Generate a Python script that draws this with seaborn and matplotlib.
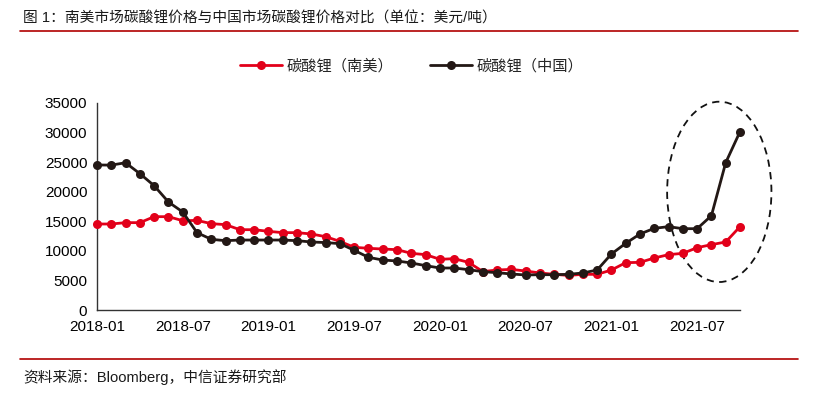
import numpy as np
import pandas as pd
import matplotlib
matplotlib.use("Agg")
import matplotlib.pyplot as plt
from matplotlib.patches import Ellipse
from matplotlib.lines import Line2D
import seaborn as sns

# monthly points, 2018-01 .. 2021-10
months = pd.date_range("2018-01-01", "2021-10-01", freq="MS").strftime("%Y-%m").tolist()

# 碳酸锂（南美）, USD/t
south_america = [14540, 14540, 14770, 14770, 15780, 15780, 15100, 15150, 14600, 14430,
                 13580, 13580, 13300, 13080, 13080, 12850, 12400, 11600, 10600, 10430,
                 10310, 10200, 9580, 9360, 8570, 8680, 8060, 6500, 6760, 6870,
                 6590, 6260, 6030, 5850, 6030, 6030, 6760, 8000, 8060, 8790,
                 9360, 9580, 10540, 11050, 11500, 14090]
# 碳酸锂（中国）, USD/t
china = [24520, 24500, 24900, 23050, 21020, 18260, 16570, 13080, 11950, 11720,
         11830, 11830, 11830, 11830, 11720, 11500, 11400, 11220, 10090, 8900,
         8450, 8290, 7950, 7500, 7100, 7100, 6820, 6480, 6310, 6090,
         5920, 5970, 5970, 6030, 6260, 6760, 9470, 11270, 12850, 13810,
         14090, 13750, 13750, 15950, 24910, 30150]

series_names = ["碳酸锂（南美）", "碳酸锂（中国）"]
tick_labels = ["2018-01", "2018-07", "2019-01", "2019-07",
               "2020-01", "2020-07", "2021-01", "2021-07"]
y_ticks = [0, 5000, 10000, 15000, 20000, 25000, 30000, 35000]

title = "图 1：南美市场碳酸锂价格与中国市场碳酸锂价格对比（单位：美元/吨）"
source = "资料来源：Bloomberg，中信证券研究部"

df = pd.DataFrame({
    "idx": list(range(len(months))) * 2,
    "month": months * 2,
    "price": south_america + china,
    "series": [series_names[0]] * len(months) + [series_names[1]] * len(months),
})

sns.set_theme(style="white")
plt.rcParams["font.family"] = ["Liberation Sans", "Noto Sans CJK SC"]
plt.rcParams["axes.unicode_minus"] = False

fig = plt.figure(figsize=(8.3, 3.95), dpi=100)
ax = fig.add_axes([97 / 830, 1 - 310 / 395, (740 - 97) / 830, (310 - 103) / 395])

palette = {series_names[0]: "#E2001A", series_names[1]: "#231815"}
sns.lineplot(data=df, x="idx", y="price", hue="series", hue_order=series_names,
             palette=palette, marker="o", markersize=6.5, markeredgewidth=0,
             linewidth=2, ax=ax)
# keep the end markers whole at the axis edges
for ln in ax.lines:
    ln.set_clip_on(False)

ax.set_xlim(0, len(months) - 1)
ax.set_ylim(0, 35000)
ax.set_xticks(range(0, len(months), 6))
ax.set_xticklabels(tick_labels)
ax.set_yticks(y_ticks)
ax.set_yticklabels([str(v) for v in y_ticks])
ax.set_xlabel("")
ax.set_ylabel("")
ax.tick_params(axis="both", labelsize=11, colors="#000000", length=4, width=1,
               direction="out", pad=3)
ax.tick_params(axis="both", color="#7f7f7f")
for s in ["top", "right"]:
    ax.spines[s].set_visible(False)
for s in ["left", "bottom"]:
    ax.spines[s].set_color("#333333")
    ax.spines[s].set_linewidth(1)
    ax.spines[s].set_zorder(1)

# dashed ellipse around the recent surge
ell = Ellipse((43.55, 19975), width=7.3, height=30490, fill=False,
              edgecolor="#111111", linestyle=(0, (4, 3)), linewidth=1.3, clip_on=False)
ax.add_patch(ell)

# legend above the plot
handles, labels = ax.get_legend_handles_labels()
ax.get_legend().remove()
fig.legend(handles, labels, loc="center", bbox_to_anchor=(412 / 830, 1 - 66 / 395),
           ncol=2, frameon=False, fontsize=11, handlelength=2.7, handletextpad=0.35,
           columnspacing=2.4)

# title, source and the red rules
fig.text(23 / 830, 1 - 19 / 395, title, fontsize=10.6, va="center", ha="left", color="#1a1a1a")
fig.add_artist(Line2D([20 / 830, 798 / 830], [1 - 31 / 395, 1 - 31 / 395],
                      color="#B00000", linewidth=1.2))
fig.add_artist(Line2D([20 / 830, 798 / 830], [1 - 359 / 395, 1 - 359 / 395],
                      color="#B00000", linewidth=1.2))
fig.text(23 / 830, 1 - 377 / 395, source, fontsize=10.6, va="center", ha="left", color="#1a1a1a")

fig.savefig("out.png", dpi=100)
